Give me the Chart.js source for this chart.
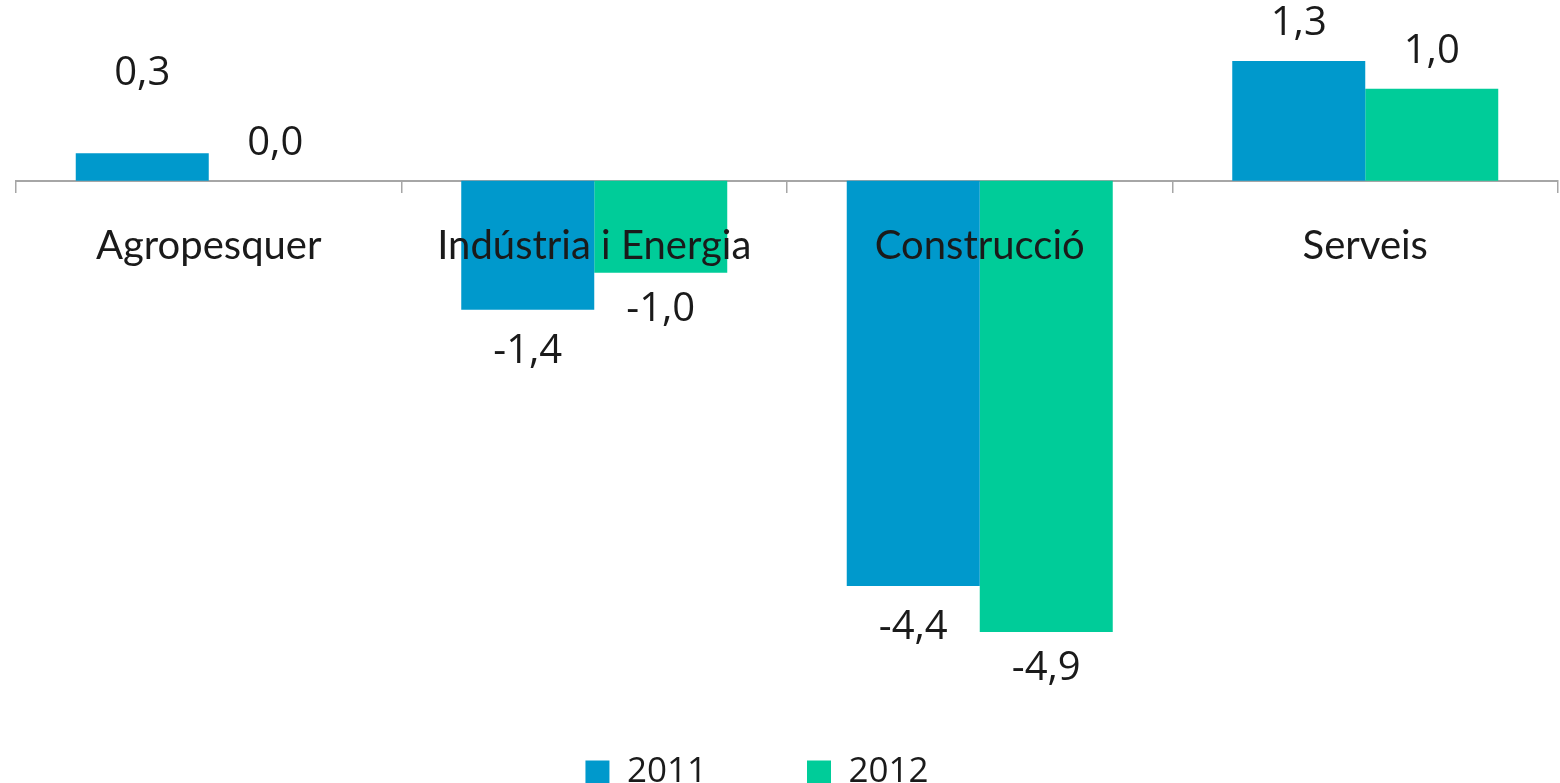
<!DOCTYPE html>
<html>
<head>
<meta charset="utf-8">
<script src="https://cdn.jsdelivr.net/npm/chart.js@4/dist/chart.umd.min.js"></script>
<style>
  html, body { margin: 0; padding: 0; background: #fff; overflow: hidden; }
  #wrap { position: relative; width: 1560px; height: 800px; }
</style>
</head>
<body>
<div id="wrap"><canvas id="chart"></canvas></div>
<script>
// dades
const sectors = ['Agropesquer', 'Indústria i Energia', 'Construcció', 'Serveis'];
const anys = ['2011', '2012'];
const valors2011 = [0.3, -1.4, -4.4, 1.3];
const valors2012 = [0.0, -1.0, -4.9, 1.0];

const colors = ['#0099CC', '#00CC99'];

// etiquetes de valor (format català, coma decimal)
const valueLabels = {
  id: 'valueLabels',
  afterDatasetsDraw(chart, args, opts) {
    const ctx = chart.ctx;
    ctx.save();
    ctx.font = opts.font;
    ctx.fillStyle = '#1a1a1a';
    ctx.textAlign = 'center';
    ctx.textBaseline = 'middle';
    chart.data.datasets.forEach((ds, i) => {
      const meta = chart.getDatasetMeta(i);
      meta.data.forEach((bar, j) => {
        const v = ds.data[j];
        const nudge = (opts.nudge[i + '-' + j] || 0);
        const y = v >= 0 ? bar.y - opts.above + nudge : bar.y + opts.below[i] + nudge;
        ctx.fillText(v.toFixed(1).replace('.', ','), bar.x, y);
      });
    });
    ctx.restore();
  }
};

// la llegenda de l'original no està centrada del tot
const legendShift = {
  id: 'legendShift',
  afterLayout(chart, args, opts) {
    if (!chart.legend) return;
    chart.legend.left += opts.dx;
    chart.legend.right += opts.dx;
  }
};

new Chart(document.getElementById('chart'), {
  type: 'bar',
  data: {
    labels: sectors,
    datasets: [
      { label: anys[0], data: valors2011, backgroundColor: colors[0] },
      { label: anys[1], data: valors2012, backgroundColor: colors[1] }
    ]
  },
  options: {
    responsive: true,
    maintainAspectRatio: false,
    animation: false,
    layout: { padding: { left: 16, right: 2, top: 0, bottom: 0 } },
    datasets: {
      bar: { categoryPercentage: 0.69, barPercentage: 1.0 }
    },
    scales: {
      x: {
        position: { y: 0 },
        grid: {
          drawOnChartArea: false,
          drawTicks: true,
          tickLength: 11,
          color: '#a6a6a6',
          lineWidth: 1.5
        },
        border: { display: true, color: '#a6a6a6', width: 2 },
        ticks: {
          z: 1,
          color: '#1a1a1a',
          padding: 30,
          autoSkip: false,
          maxRotation: 0,
          font: { family: 'Lato', size: 40 }
        }
      },
      y: {
        display: false,
        min: -5.15,
        max: 1.963
      }
    },
    plugins: {
      legend: {
        position: 'bottom',
        labels: {
          color: '#1a1a1a',
          boxWidth: 24,
          boxHeight: 24,
          padding: 100,
          font: { family: 'Open Sans', size: 35 }
        }
      },
      legendShift: { dx: -30 },
      tooltip: { enabled: false },
      valueLabels: {
        font: '40px "Open Sans"',
        above: 37,
        below: [42, 37],
        nudge: { '0-0': -43 }
      }
    }
  },
  plugins: [valueLabels, legendShift]
});
</script>
</body>
</html>
